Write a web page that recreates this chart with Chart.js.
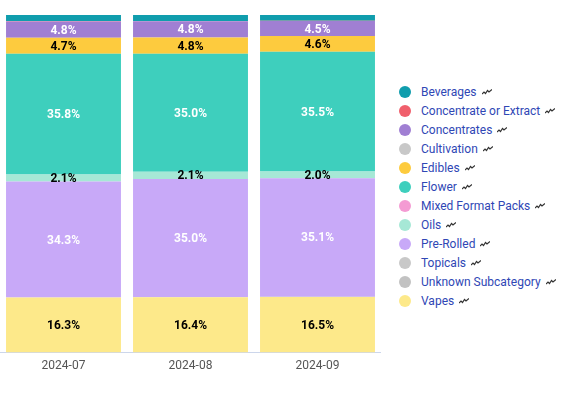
<!DOCTYPE html>
<html>
<head>
<meta charset="utf-8">
<script src="https://cdn.jsdelivr.net/npm/chart.js@4/dist/chart.umd.min.js"></script>
<style>
  body { margin: 0; background: #fff; font-family: Roboto, sans-serif; }
  #wrap { position: relative; width: 564px; height: 398px; }
  #chartBox { position: absolute; left: 0; top: 0; width: 381px; height: 398px; }
  #legend { position: absolute; left: 399px; top: 82px; }
  .item { display: flex; align-items: center; height: 19px; font-size: 12px; color: #2f47b5; }
  .dot { width: 12px; height: 12px; border-radius: 50%; margin-right: 10px; }
  .trend { margin-left: 5px; }
</style>
</head>
<body>
<div id="wrap">
  <div id="chartBox"><canvas id="myChart"></canvas></div>
  <div id="legend"></div>
</div>
<script>
const months = ['2024-07', '2024-08', '2024-09'];

const categories = ['Beverages', 'Concentrate or Extract', 'Concentrates', 'Cultivation', 'Edibles', 'Flower',
  'Mixed Format Packs', 'Oils', 'Pre-Rolled', 'Topicals', 'Unknown Subcategory', 'Vapes'];

const beverages = [1.8, 1.8, 1.7];
const concentrateOrExtract = [0.15, 0.05, 0.05];
const concentrates = [4.8, 4.8, 4.5];
const cultivation = [0, 0, 0];
const edibles = [4.7, 4.8, 4.6];
const flower = [35.8, 35.0, 35.5];
const mixedFormatPacks = [0, 0, 0];
const oils = [2.1, 2.1, 2.0];
const preRolled = [34.3, 35.0, 35.1];
const topicals = [0.03, 0.03, 0.03];
const unknownSubcategory = [0.02, 0.02, 0.02];
const vapes = [16.3, 16.4, 16.5];

const seriesValues = [beverages, concentrateOrExtract, concentrates, cultivation, edibles, flower,
  mixedFormatPacks, oils, preRolled, topicals, unknownSubcategory, vapes];

const colors = ['#109dad', '#f05f6c', '#a07fd3', '#c8c8c8', '#fdcb3e', '#3ecfbd',
  '#f49bd3', '#a6e8d6', '#c8a9f8', '#c8c8c8', '#c2c2c2', '#fde98a'];
const labelColors = ['#fff', '#fff', '#fff', '#000', '#000', '#fff',
  '#000', '#000', '#fff', '#000', '#000', '#000'];

// bottom of stack is the last category, so build in reverse
const datasets = categories.map((name, i) => ({
  label: name,
  data: seriesValues[i],
  backgroundColor: colors[i],
  labelColor: labelColors[i],
  borderWidth: 0,
  barPercentage: 0.905,
  categoryPercentage: 1.0,
})).reverse();

const barLabels = {
  id: 'barLabels',
  afterDatasetsDraw(chart) {
    const ctx = chart.ctx;
    ctx.save();
    ctx.font = 'bold 12px Roboto';
    ctx.textAlign = 'center';
    ctx.textBaseline = 'middle';
    chart.data.datasets.forEach((ds, di) => {
      const meta = chart.getDatasetMeta(di);
      meta.data.forEach((bar, i) => {
        const v = ds.data[i];
        if (v < 2) return;
        ctx.fillStyle = ds.labelColor;
        ctx.fillText(v.toFixed(1) + '%', bar.x, (bar.y + bar.base) / 2 + 1);
      });
    });
    ctx.restore();
  }
};

const chart = new Chart(document.getElementById('myChart'), {
  type: 'bar',
  data: { labels: months, datasets: datasets },
  options: {
    responsive: true,
    maintainAspectRatio: false,
    animation: false,
    layout: { padding: { top: 15, bottom: 19, left: 0, right: 0 } },
    plugins: { legend: { display: false }, tooltip: { enabled: false } },
    scales: {
      x: {
        stacked: true,
        grid: { display: false, drawTicks: false },
        border: { display: true, color: '#ccd6eb', width: 1 },
        ticks: { padding: 6, color: '#555', font: { family: 'Roboto', size: 12 } },
      },
      y: {
        stacked: true,
        display: false,
        min: 0,
        max: 100,
      },
    },
  },
  plugins: [barLabels],
});

// html legend with a small trend glyph after each name
const legend = document.getElementById('legend');
categories.forEach((name, i) => {
  const row = document.createElement('div');
  row.className = 'item';
  row.innerHTML = '<span class="dot" style="background:' + colors[i] + '"></span>' +
    '<span>' + name + '</span>' +
    '<svg class="trend" width="10" height="6" viewBox="0 0 10 6"><polyline points="0,5 2,3 3.5,4.5 5.5,1.5 7,3 10,0.5" fill="none" stroke="#333" stroke-width="1.2"/></svg>';
  legend.appendChild(row);
});
</script>
</body>
</html>
